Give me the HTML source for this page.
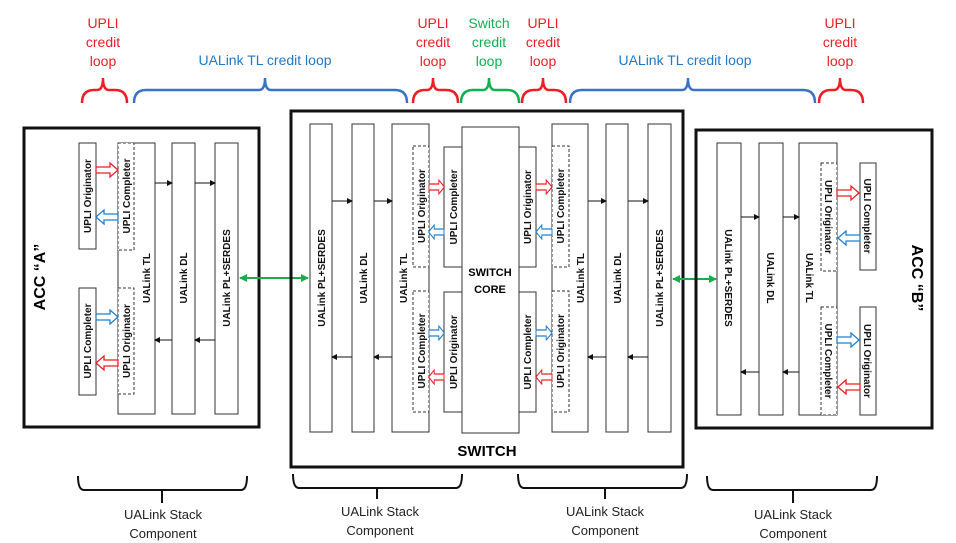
<!DOCTYPE html>
<html><head><meta charset="utf-8"><style>
html,body{margin:0;padding:0;background:#fff;}
svg{display:block;}
text{font-family:"Liberation Sans",sans-serif;}
.bl{font-weight:bold;font-size:10px;fill:#111;}
</style></head><body>
<svg width="956" height="543" viewBox="0 0 956 543" xmlns="http://www.w3.org/2000/svg">
<defs>
<path id="ar" d="M0,-3 H14 V-7 L22,0 L14,7 V3 H0 Z" fill="#fff" stroke-width="1.3"/>
<marker id="mh" markerWidth="6" markerHeight="6" refX="5" refY="3" orient="auto" markerUnits="userSpaceOnUse"><path d="M0,0 L6,3 L0,6 Z" fill="#111"/></marker>
<marker id="gh" markerWidth="8" markerHeight="8" refX="7" refY="4" orient="auto" markerUnits="userSpaceOnUse"><path d="M0,0 L8,4 L0,8 Z" fill="#1aad4a"/></marker>
<marker id="gt" markerWidth="8" markerHeight="8" refX="1" refY="4" orient="auto" markerUnits="userSpaceOnUse"><path d="M8,0 L0,4 L8,8 Z" fill="#1aad4a"/></marker>
</defs>

<!-- top labels -->
<g font-size="14" text-anchor="middle">
<g fill="#ee1c25"><text x="103" y="28">UPLI</text><text x="103" y="47">credit</text><text x="103" y="66">loop</text></g>
<g fill="#ee1c25"><text x="433" y="28">UPLI</text><text x="433" y="47">credit</text><text x="433" y="66">loop</text></g>
<g fill="#10b050"><text x="489" y="28">Switch</text><text x="489" y="47">credit</text><text x="489" y="66">loop</text></g>
<g fill="#ee1c25"><text x="543" y="28">UPLI</text><text x="543" y="47">credit</text><text x="543" y="66">loop</text></g>
<g fill="#ee1c25"><text x="840" y="28">UPLI</text><text x="840" y="47">credit</text><text x="840" y="66">loop</text></g>
<g fill="#1f78c8"><text x="265" y="65">UALink TL credit loop</text><text x="685" y="65">UALink TL credit loop</text></g>
</g>
<g fill="none" stroke-width="2.5">
<path stroke="#ee1c25" d="M82,103 Q82,90 94,90 H97 Q103,90 103,78 Q103,90 109,90 H115 Q127,90 127,103"/>
<path stroke="#3a72c4" d="M134,103 Q134,90 146,90 H259 Q265,90 265,78 Q265,90 271,90 H395 Q407,90 407,103"/>
<path stroke="#ee1c25" d="M413,103 Q413,90 425,90 H427 Q433,90 433,78 Q433,90 439,90 H446 Q458,90 458,103"/>
<path stroke="#10b050" d="M461,103 Q461,90 473,90 H483 Q489,90 489,78 Q489,90 495,90 H507 Q519,90 519,103"/>
<path stroke="#ee1c25" d="M522,103 Q522,90 534,90 H537 Q543,90 543,78 Q543,90 549,90 H554 Q566,90 566,103"/>
<path stroke="#3a72c4" d="M570,103 Q570,90 582,90 H682 Q688,90 688,78 Q688,90 694,90 H803 Q815,90 815,103"/>
<path stroke="#ee1c25" d="M819,103 Q819,90 831,90 H834 Q840,90 840,78 Q840,90 846,90 H851 Q863,90 863,103"/>
</g>

<!-- ACC A -->
<rect x="24" y="128" width="235" height="299" fill="none" stroke="#111" stroke-width="3"/>
<text transform="translate(45,277) rotate(-90)" text-anchor="middle" font-size="16" font-weight="bold">ACC “A”</text>
<g fill="#fff" stroke="#333" stroke-width="1">
<rect x="79" y="143" width="17" height="106"/><rect x="79" y="288" width="17" height="107"/>
<rect x="118" y="143" width="37" height="271"/><rect x="172" y="143" width="23" height="271"/><rect x="215" y="143" width="23" height="271"/>
<rect x="118" y="143" width="16" height="107" stroke-dasharray="3,2"/><rect x="118" y="288" width="16" height="106" stroke-dasharray="3,2"/>
</g>
<g class="bl" text-anchor="middle">
<text class="bl" transform="translate(91,196) rotate(-90)">UPLI Originator</text>
<text class="bl" transform="translate(91,341) rotate(-90)">UPLI Completer</text>
<text class="bl" transform="translate(130,196) rotate(-90)">UPLI Completer</text>
<text class="bl" transform="translate(130,341) rotate(-90)">UPLI Originator</text>
<text class="bl" transform="translate(150,278) rotate(-90)">UALink TL</text>
<text class="bl" transform="translate(187,278) rotate(-90)">UALink DL</text>
<text class="bl" transform="translate(230,278) rotate(-90)">UALink PL+SERDES</text>
</g>
<use href="#ar" stroke="#ee1c25" transform="translate(96,170)"/>
<use href="#ar" stroke="#1f7fd0" transform="translate(118,217) scale(-1,1)"/>
<use href="#ar" stroke="#1f7fd0" transform="translate(96,317)"/>
<use href="#ar" stroke="#ee1c25" transform="translate(118,363) scale(-1,1)"/>
<g stroke="#111" stroke-width="1">
<line x1="155" y1="183" x2="172" y2="183" marker-end="url(#mh)"/><line x1="195" y1="183" x2="215" y2="183" marker-end="url(#mh)"/>
<line x1="172" y1="340" x2="155" y2="340" marker-end="url(#mh)"/><line x1="215" y1="340" x2="195" y2="340" marker-end="url(#mh)"/>
</g>
<line x1="240" y1="278" x2="308" y2="278" stroke="#1aad4a" stroke-width="2" marker-end="url(#gh)" marker-start="url(#gt)"/>

<!-- SWITCH -->
<rect x="291" y="111" width="392" height="356" fill="none" stroke="#111" stroke-width="3"/>
<text x="487" y="456" text-anchor="middle" font-size="15" font-weight="bold">SWITCH</text>
<g fill="#fff" stroke="#333" stroke-width="1">
<rect x="310" y="124" width="22" height="308"/><rect x="352" y="124" width="22" height="308"/><rect x="392" y="124" width="37" height="308"/>
<rect x="413" y="146" width="16" height="121" stroke-dasharray="3,2"/><rect x="413" y="291" width="16" height="121" stroke-dasharray="3,2"/>
<rect x="444" y="147" width="18" height="120"/><rect x="444" y="292" width="18" height="120"/>
<rect x="519" y="147" width="17" height="120"/><rect x="519" y="292" width="17" height="120"/>
<rect x="552" y="124" width="36" height="308"/>
<rect x="552" y="146" width="17" height="121" stroke-dasharray="3,2"/><rect x="552" y="291" width="17" height="121" stroke-dasharray="3,2"/>
<rect x="606" y="124" width="22" height="308"/><rect x="648" y="124" width="23" height="308"/>
<rect x="462" y="127" width="57" height="306"/>
</g>
<g text-anchor="middle">
<text x="490" y="276" font-size="11" font-weight="bold" text-anchor="middle">SWITCH</text>
<text x="490" y="293" font-size="11" font-weight="bold" text-anchor="middle">CORE</text>
<text class="bl" transform="translate(325,278) rotate(-90)">UALink PL+SERDES</text>
<text class="bl" transform="translate(367,278) rotate(-90)">UALink DL</text>
<text class="bl" transform="translate(407,278) rotate(-90)">UALink TL</text>
<text class="bl" transform="translate(425,206) rotate(-90)">UPLI Originator</text>
<text class="bl" transform="translate(425,351) rotate(-90)">UPLI Completer</text>
<text class="bl" transform="translate(457,207) rotate(-90)">UPLI Completer</text>
<text class="bl" transform="translate(457,352) rotate(-90)">UPLI Originator</text>
<text class="bl" transform="translate(531,207) rotate(-90)">UPLI Originator</text>
<text class="bl" transform="translate(531,352) rotate(-90)">UPLI Completer</text>
<text class="bl" transform="translate(564,206) rotate(-90)">UPLI Completer</text>
<text class="bl" transform="translate(564,351) rotate(-90)">UPLI Originator</text>
<text class="bl" transform="translate(584,278) rotate(-90)">UALink TL</text>
<text class="bl" transform="translate(621,278) rotate(-90)">UALink DL</text>
<text class="bl" transform="translate(663,278) rotate(-90)">UALink PL+SERDES</text>
</g>
<use href="#ar" stroke="#ee1c25" transform="translate(429,187) scale(0.7,1)"/>
<use href="#ar" stroke="#1f7fd0" transform="translate(444,232) scale(-0.7,1)"/>
<use href="#ar" stroke="#1f7fd0" transform="translate(429,333) scale(0.7,1)"/>
<use href="#ar" stroke="#ee1c25" transform="translate(444,377) scale(-0.7,1)"/>
<use href="#ar" stroke="#ee1c25" transform="translate(536,187) scale(0.73,1)"/>
<use href="#ar" stroke="#1f7fd0" transform="translate(552,232) scale(-0.73,1)"/>
<use href="#ar" stroke="#1f7fd0" transform="translate(536,333) scale(0.73,1)"/>
<use href="#ar" stroke="#ee1c25" transform="translate(552,377) scale(-0.73,1)"/>
<g stroke="#111" stroke-width="1">
<line x1="332" y1="201" x2="352" y2="201" marker-end="url(#mh)"/><line x1="374" y1="201" x2="392" y2="201" marker-end="url(#mh)"/>
<line x1="588" y1="201" x2="606" y2="201" marker-end="url(#mh)"/><line x1="628" y1="201" x2="648" y2="201" marker-end="url(#mh)"/>
<line x1="352" y1="357" x2="332" y2="357" marker-end="url(#mh)"/><line x1="392" y1="357" x2="374" y2="357" marker-end="url(#mh)"/>
<line x1="606" y1="357" x2="588" y2="357" marker-end="url(#mh)"/><line x1="648" y1="357" x2="628" y2="357" marker-end="url(#mh)"/>
</g>
<line x1="673" y1="279" x2="716" y2="279" stroke="#1aad4a" stroke-width="2" marker-end="url(#gh)" marker-start="url(#gt)"/>

<!-- ACC B -->
<rect x="696" y="130" width="236" height="298" fill="none" stroke="#111" stroke-width="3"/>
<text transform="translate(912,278) rotate(90)" text-anchor="middle" font-size="16" font-weight="bold">ACC “B”</text>
<g fill="#fff" stroke="#333" stroke-width="1">
<rect x="717" y="143" width="24" height="272"/><rect x="759" y="143" width="24" height="272"/><rect x="799" y="143" width="38" height="272"/>
<rect x="821" y="163" width="16" height="108" stroke-dasharray="3,2"/><rect x="821" y="307" width="16" height="108" stroke-dasharray="3,2"/>
<rect x="860" y="163" width="16" height="107"/><rect x="860" y="307" width="16" height="108"/>
</g>
<g text-anchor="middle">
<text class="bl" transform="translate(725,278) rotate(90)">UALink PL+SERDES</text>
<text class="bl" transform="translate(767,278) rotate(90)">UALink DL</text>
<text class="bl" transform="translate(806,278) rotate(90)">UALink TL</text>
<text class="bl" transform="translate(825,217) rotate(90)">UPLI Originator</text>
<text class="bl" transform="translate(825,361) rotate(90)">UPLI Completer</text>
<text class="bl" transform="translate(864,216) rotate(90)">UPLI Completer</text>
<text class="bl" transform="translate(864,361) rotate(90)">UPLI Originator</text>
</g>
<use href="#ar" stroke="#ee1c25" transform="translate(837,193)"/>
<use href="#ar" stroke="#1f7fd0" transform="translate(860,238) scale(-1,1)"/>
<use href="#ar" stroke="#1f7fd0" transform="translate(837,340)"/>
<use href="#ar" stroke="#ee1c25" transform="translate(860,387) scale(-1,1)"/>
<g stroke="#111" stroke-width="1">
<line x1="741" y1="217" x2="759" y2="217" marker-end="url(#mh)"/><line x1="783" y1="217" x2="799" y2="217" marker-end="url(#mh)"/>
<line x1="759" y1="372" x2="741" y2="372" marker-end="url(#mh)"/><line x1="799" y1="372" x2="783" y2="372" marker-end="url(#mh)"/>
</g>

<!-- bottom braces -->
<g fill="none" stroke="#111" stroke-width="2">
<path d="M78,476 Q78,490 84,490 H241 Q247,490 247,476 M162,490 V503"/>
<path d="M293,474 Q293,488 299,488 H456 Q462,488 462,474 M377,488 V499"/>
<path d="M518,474 Q518,488 524,488 H681 Q687,488 687,474 M605,488 V499"/>
<path d="M707,476 Q707,490 713,490 H871 Q877,490 877,476 M793,490 V503"/>
</g>
<g font-size="13" text-anchor="middle" fill="#222">
<text x="163" y="519">UALink Stack</text><text x="163" y="538">Component</text>
<text x="380" y="516">UALink Stack</text><text x="380" y="535">Component</text>
<text x="605" y="516">UALink Stack</text><text x="605" y="535">Component</text>
<text x="793" y="519">UALink Stack</text><text x="793" y="538">Component</text>
</g>
</svg>
</body></html>
